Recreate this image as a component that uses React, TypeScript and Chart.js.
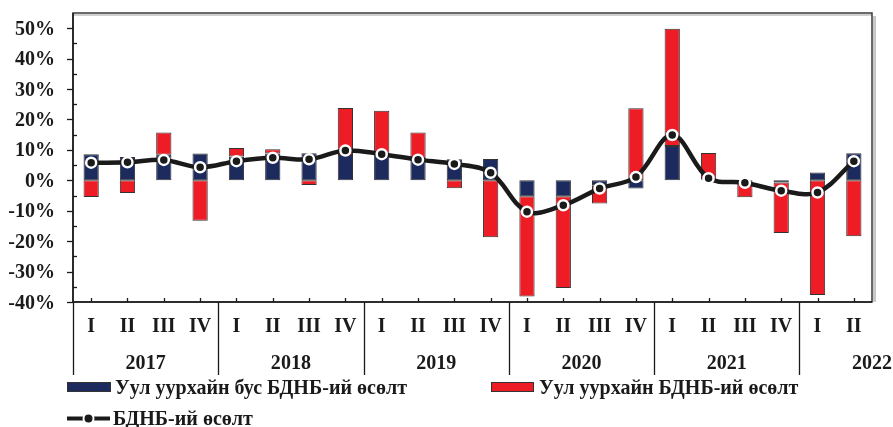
import React, { useEffect, useRef } from "react";
import { Chart, registerables } from "chart.js";

Chart.register(...registerables);

const quarters = [
  "I", "II", "III", "IV",
  "I", "II", "III", "IV",
  "I", "II", "III", "IV",
  "I", "II", "III", "IV",
  "I", "II", "III", "IV",
  "I", "II",
];
const years = ["2017", "2018", "2019", "2020", "2021", "2022"];
const yearSpans = [4, 4, 4, 4, 4, 2];

// Уул уурхайн бус БДНБ-ий өсөлт (non-mining contribution)
const nonMining = [
  8.6, 7.7, 8.4, 8.8,
  7.8, 8.8, 8.9, 8.3,
  8.3, 7.3, 6.9, 7.0,
  -5.2, -5.2, -1.8, -2.7,
  11.3, 0.3, 0, -0.7,
  2.6, 8.9,
];
// Уул уурхайн БДНБ-ий өсөлт (mining contribution)
const mining = [
  -5.5, -4.2, 7.3, -13.3,
  2.8, 1.4, -1.5, 15.5,
  14.6, 8.4, -2.6, -18.7,
  -33.0, -30.2, -5.8, 23.7,
  38.5, 8.7, -5.6, -16.6,
  -37.7, -18.4,
];
// БДНБ-ий өсөлт (GDP growth)
const gdp = [
  5.8, 5.9, 6.7, 4.3,
  6.3, 7.4, 6.9, 9.8,
  8.6, 6.8, 5.4, 2.5,
  -10.3, -8.2, -2.7, 1.1,
  14.9, 0.7, -0.8, -3.4,
  -4.0, 6.3,
];

const yMajorTicks = [-40, -30, -20, -10, 0, 10, 20, 30, 40, 50];
const yMinorTicks = [-35, -25, -15, -5, 5, 15, 25, 35, 45];
const yMin = -40;
const yMax = 55;

const legendLabels = [
  "Уул уурхайн бус БДНБ-ий өсөлт",
  "Уул уурхайн БДНБ-ий өсөлт",
  "БДНБ-ий өсөлт",
];

const NAVY = "#1c2a5e";
const RED = "#ee1c24";
const INK = "#1a1a1a";
const FONT = 'bold 21.5px "Liberation Serif", "Times New Roman", serif';

function drawText(
  ctx: CanvasRenderingContext2D,
  text: string,
  x: number,
  y: number,
  align: CanvasTextAlign,
  baseline: CanvasTextBaseline,
  sx: number
) {
  ctx.save();
  ctx.translate(x, y);
  ctx.scale(sx, 1);
  ctx.textAlign = align;
  ctx.textBaseline = baseline;
  ctx.fillText(text, 0, 0);
  ctx.restore();
}

const framePlugin = {
  id: "framePlugin",
  beforeDatasetsDraw(chart: any) {
    const { ctx, chartArea } = chart;
    const { left, right, top, bottom } = chartArea;
    const ys = chart.scales.y;
    const xs = chart.scales.x;
    ctx.save();
    // shadow
    ctx.strokeStyle = "#c8c8c8";
    ctx.lineWidth = 3;
    ctx.beginPath();
    ctx.moveTo(right + 2.5, top + 3);
    ctx.lineTo(right + 2.5, bottom);
    ctx.stroke();
    ctx.strokeStyle = "#d0d0d0";
    ctx.lineWidth = 2;
    ctx.beginPath();
    ctx.moveTo(left + 1, top + 2);
    ctx.lineTo(right, top + 2);
    ctx.stroke();
    // frame
    ctx.strokeStyle = "#3a3a3a";
    ctx.lineWidth = 1.5;
    ctx.strokeRect(left, top, right - left, bottom - top);
    ctx.strokeStyle = INK;
    ctx.lineWidth = 1.5;
    ctx.beginPath();
    ctx.moveTo(left, top);
    ctx.lineTo(left, bottom);
    ctx.lineTo(right, bottom);
    ctx.stroke();
    // y ticks
    ctx.lineWidth = 1.3;
    yMajorTicks.forEach((v) => {
      const y = Math.round(ys.getPixelForValue(v)) + 0.5;
      ctx.beginPath();
      ctx.moveTo(left - 6, y);
      ctx.lineTo(left, y);
      ctx.stroke();
    });
    yMinorTicks.forEach((v) => {
      const y = Math.round(ys.getPixelForValue(v)) + 0.5;
      ctx.beginPath();
      ctx.moveTo(left, y);
      ctx.lineTo(left + 4, y);
      ctx.stroke();
    });
    // x ticks at categories
    quarters.forEach((_, i) => {
      const x = Math.round(xs.getPixelForValue(i)) + 0.5;
      ctx.beginPath();
      ctx.moveTo(x, bottom - 4);
      ctx.lineTo(x, bottom);
      ctx.stroke();
    });
    ctx.restore();
  },
  afterDraw(chart: any) {
    const { ctx, chartArea } = chart;
    const { bottom } = chartArea;
    const ys = chart.scales.y;
    const xs = chart.scales.x;
    const catW = xs.getPixelForValue(1) - xs.getPixelForValue(0);
    ctx.save();
    ctx.font = FONT;
    ctx.fillStyle = INK;
    const sx = Math.min(1, 292 / ctx.measureText(legendLabels[0]).width);

    // y labels
    yMajorTicks.forEach((v) => {
      drawText(ctx, v + "%", 55, ys.getPixelForValue(v) + 1, "right", "middle", sx);
    });

    // quarter labels
    quarters.forEach((q, i) => {
      drawText(ctx, q, xs.getPixelForValue(i), 326, "center", "middle", sx);
    });

    // year separators and labels
    ctx.strokeStyle = INK;
    ctx.lineWidth = 1.3;
    let start = 0;
    years.forEach((yr, k) => {
      const x0 = xs.getPixelForValue(start) - catW / 2;
      const xl = Math.round(x0) + 0.5;
      ctx.beginPath();
      ctx.moveTo(xl, bottom);
      ctx.lineTo(xl, 375);
      ctx.stroke();
      const cx = x0 + (Math.max(yearSpans[k], 4) * catW) / 2;
      drawText(ctx, yr, cx, 363, "center", "middle", sx);
      start += yearSpans[k];
    });

    // legend
    ctx.lineWidth = 1;
    ctx.strokeStyle = "#333";
    ctx.fillStyle = NAVY;
    ctx.fillRect(67, 382, 44, 10);
    ctx.strokeRect(67.5, 382.5, 43, 9);
    ctx.fillStyle = RED;
    ctx.fillRect(491, 382, 43, 10);
    ctx.strokeRect(491.5, 382.5, 42, 9);
    ctx.fillStyle = INK;
    drawText(ctx, legendLabels[0], 115, 394, "left", "alphabetic", sx);
    drawText(ctx, legendLabels[1], 539, 394, "left", "alphabetic", sx);

    ctx.strokeStyle = INK;
    ctx.lineWidth = 4;
    ctx.beginPath();
    ctx.moveTo(67, 418.5);
    ctx.lineTo(110, 418.5);
    ctx.stroke();
    ctx.beginPath();
    ctx.arc(88.5, 418.5, 5, 0, Math.PI * 2);
    ctx.fillStyle = INK;
    ctx.fill();
    ctx.strokeStyle = "#fff";
    ctx.lineWidth = 2;
    ctx.stroke();
    ctx.fillStyle = INK;
    drawText(ctx, legendLabels[2], 113, 425, "left", "alphabetic", sx);
    ctx.restore();
  },
};

export default function App() {
  const ref = useRef<HTMLCanvasElement | null>(null);
  useEffect(() => {
    if (!ref.current) return;
    const chart = new Chart(ref.current, {
      type: "bar",
      data: {
        labels: quarters.map((q, i) => q + "-" + i),
        datasets: [
          {
            type: "bar",
            label: legendLabels[0],
            data: nonMining,
            backgroundColor: NAVY,
            borderColor: "#333",
            borderWidth: 1,
            borderSkipped: false,
            stack: "bars",
            order: 2,
            categoryPercentage: 1,
            barPercentage: 0.42,
          },
          {
            type: "bar",
            label: legendLabels[1],
            data: mining,
            backgroundColor: RED,
            borderColor: "#333",
            borderWidth: 1,
            borderSkipped: false,
            stack: "bars",
            order: 2,
            categoryPercentage: 1,
            barPercentage: 0.42,
          },
          {
            type: "line",
            label: legendLabels[2],
            data: gdp,
            borderColor: INK,
            borderWidth: 4.5,
            tension: 0.35,
            pointRadius: 5,
            pointBackgroundColor: INK,
            pointBorderColor: "#fff",
            pointBorderWidth: 2.5,
            stack: "line",
            order: 0,
          } as any,
        ],
      },
      options: {
        responsive: false,
        animation: false,
        devicePixelRatio: 1,
        layout: { padding: { left: 73, top: 13, right: 21, bottom: 125 } },
        plugins: {
          legend: { display: false },
          tooltip: { enabled: false },
        },
        scales: {
          x: { type: "category", display: false, stacked: true, offset: true },
          y: { display: false, stacked: true, min: yMin, max: yMax },
        },
      },
      plugins: [framePlugin],
    });
    return () => chart.destroy();
  }, []);
  return (
    <div style={{ position: "fixed", left: 0, top: 0, width: 893, height: 427, background: "#fff" }}>
      <canvas ref={ref} width={893} height={427} style={{ width: 893, height: 427 }} />
    </div>
  );
}
